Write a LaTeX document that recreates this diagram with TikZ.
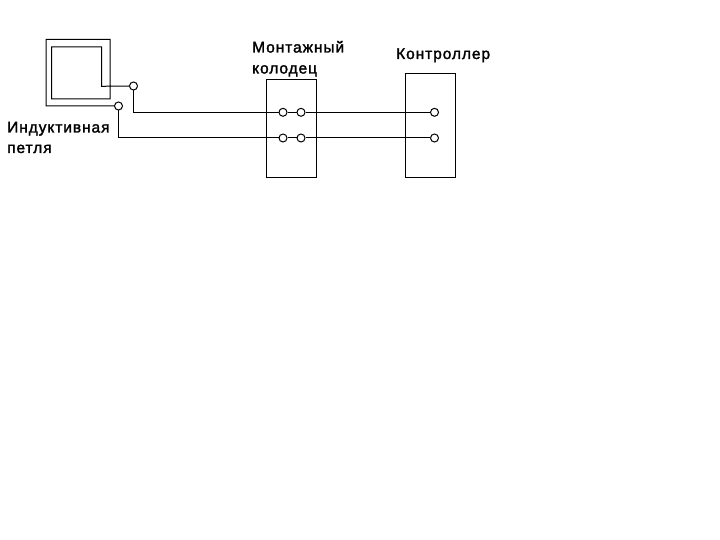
\documentclass[tikz,border=0pt]{standalone}
\usepackage{fontspec}
\setmainfont[FakeBold=1.8,LetterSpace=6]{Liberation Sans}
\tikzset{
  wire/.style={draw=black,line width=1pt},
  term/.style={circle,draw=black,fill=white,line width=1pt,minimum size=8pt,inner sep=0pt},
  lab/.style={font=\fontsize{15.5}{20}\selectfont,anchor=base west,inner sep=0pt,text=black}
}
\begin{document}
\begin{tikzpicture}[x=1pt,y=-1pt]
\useasboundingbox (0,0) rectangle (720,540);
\fill[white] (0,0) rectangle (720,540);
\node[draw=black,line width=1pt,minimum width=49.7pt,minimum height=98pt,inner sep=0pt,anchor=north west] (well) at (266.3,79.3) {};
\node[draw=black,line width=1pt,minimum width=49.7pt,minimum height=104pt,inner sep=0pt,anchor=north west] (ctrl) at (405.3,73.3) {};
\node[term] (t1) at (133.5,86) {};
\node[term] (t2) at (118.5,106) {};
\coordinate (loopa) at (101.5,86.3);
\coordinate (loopb) at (110,99);
\draw[wire,line join=miter] (t2.west) -- (46,106) -- (46,39.3) -- (110,39.3) -- (loopb) -- (51.5,99) -- (51.5,47) -- (101.5,47) -- (loopa) -- (t1.west);
\node[term] (w1) at (283,112.3) {};
\node[term] (w2) at (301,112.3) {};
\node[term] (w3) at (283,138) {};
\node[term] (w4) at (301,138) {};
\node[term] (c1) at (434.5,112.3) {};
\node[term] (c2) at (434.5,138) {};
\draw[wire] (t1.south) |- (w1.west);
\draw[wire] (t2.south) |- (w3.west);
\draw[wire] (w1) -- (w2);
\draw[wire] (w3) -- (w4);
\draw[wire] (w2) -- (c1);
\draw[wire] (w4) -- (c2);
\node[lab] (l1) at (7,132.5) {Индуктивная};
\node[lab] (l2) at (7,153) {петля};
\node[lab] (l3) at (252,52.5) {Монтажный};
\node[lab] (l4) at (252,73.5) {колодец};
\node[lab] (l5) at (396,59) {Контроллер};
\end{tikzpicture}
\end{document}
